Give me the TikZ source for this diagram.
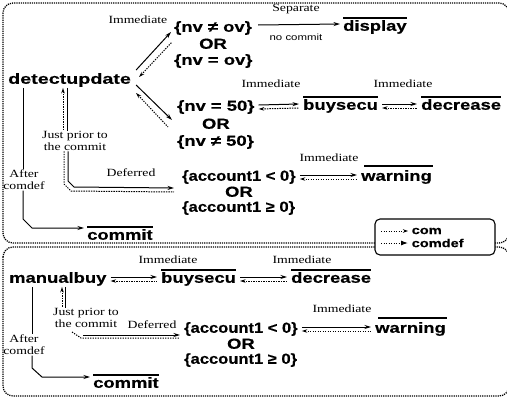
\documentclass[tikz,border=0pt]{standalone}
\usepackage{fontspec}
\usetikzlibrary{arrows.meta,calc}
\newfontfamily\bsf{Liberation Sans}[FakeStretch=1.27, BoldFeatures={FakeBold=0.5}]
\newfontfamily\bsfw{Liberation Sans}[FakeStretch=1.36, BoldFeatures={FakeBold=0.5}]
\newfontfamily\bsfn{Liberation Sans}[FakeStretch=1.14, BoldFeatures={FakeBold=0.5}]
\newfontfamily\srf{Liberation Serif}[FakeStretch=1.25]
\tikzset{
 big/.style={font=\bsf\bfseries\fontsize{14.5}{15}\selectfont, inner sep=1pt, text height=10.5pt, text depth=3pt},
 wide/.style={big, font=\bsfw\bfseries\fontsize{14.5}{15}\selectfont},
 acc/.style={big, font=\bsfn\bfseries\fontsize{14.5}{15}\selectfont},
 lbl/.style={font=\srf\fontsize{11}{12}\selectfont, inner sep=0.5pt, align=center},
 sml/.style={font=\bsf\fontsize{9}{10}\selectfont, inner sep=0.5pt},
 leg/.style={font=\bsf\bfseries\fontsize{11.5}{11}\selectfont, inner sep=0.5pt, anchor=west},
 fwd/.style={-{Stealth[length=6.5pt,width=4pt]}, line width=1pt},
 back/.style={{Stealth[length=5.5pt,width=3.5pt]}-, line width=1pt, dash pattern=on 1.3pt off 1.2pt},
 plain/.style={line width=1pt},
 dots/.style={line width=1pt, dash pattern=on 1.3pt off 1.2pt},
 ovl/.style={line width=1.2pt},
 frame/.style={line width=1.3pt, dash pattern=on 1.2pt off 1pt, rounded corners=10pt},
}
\begin{document}
\begin{tikzpicture}[x=1pt,y=-1pt]
\useasboundingbox (0,0) rectangle (507,399);
% frames
\draw[frame] (3,3) rectangle (509,243);
\draw[frame] (3,247) rectangle (509,396);

% ---------- upper part ----------
\node[wide, anchor=west] (du) at (7,80) {detectupdate};
\node[big, anchor=west] (ne) at (173,28) {\{nv ≠ ov\}};
\node[big] (or1) at (ne.center |- 0,45) {OR};
\node[big, anchor=west] (eq) at (173,61) {\{nv = ov\}};
\node[lbl, anchor=east] (im1) at (168,20) {Immediate};
\node[big, anchor=west] (disp) at (342,27) {display};
\node[lbl] (sep) at (296,9) {Separate};
\node[sml] (nc) at (296,37) {no commit};
\draw[fwd] (ne.east) ++(5,-3) -- ($(disp.west)+(-2,-3)$);

\draw[fwd] ($(du.east)+(4,-10)$) -- ($(ne.west)+(-2,4)$);
\draw[back] ($(du.east)+(7,-3)$) -- ($(ne.west)+(-1,14)$);

\node[big, anchor=west] (n50) at (176,107) {\{nv = 50\}};
\node[big] (or2) at (n50.center |- 0,125) {OR};
\node[big, anchor=west] (nn50) at (176,142) {\{nv ≠ 50\}};
\draw[fwd] ($(du.east)+(4,5)$) -- ($(n50.west)+(-4,13)$);
\draw[back] ($(du.east)+(4,13)$) -- ($(n50.west)+(-8,20)$);

\node[big, anchor=west] (bs1) at (302,106) {buysecu};
\node[big, anchor=west] (dec1) at (420,106) {decrease};
\node[lbl] (im2) at (271,84) {Immediate};
\node[lbl] (im3) at (403,84) {Immediate};

\node[acc, anchor=west] (acc1) at (181,177) {\{account1 < 0\}};
\node[big] (or3) at (acc1.center |- 0,193) {OR};
\node[acc, anchor=west] (acg1) at (181,208) {\{account1 ≥ 0\}};
\node[big, anchor=west] (warn1) at (360,177) {warning};
\node[lbl] (im4) at (329,158) {Immediate};

\node[lbl] (jp1) at (75,141) {Just prior to\\the commit};
\node[lbl] (def1) at (131,173) {Deferred};
\node[lbl] (af1) at (24,180) {After\\comdef};
\node[big, anchor=west] (cm1) at (86,236) {commit};

% deferred pair (upper)
\draw[back] (du.south -| 63,0) -- (jp1.north -| 63,0);
\draw[plain] (du.south -| 67,0) -- (jp1.north -| 67,0);
\draw[dots] (jp1.south -| 64,0) -- (64,184) -- (71,191) -- ($(acc1.west)+(-7,15)$);
\draw[fwd] (jp1.south -| 68,0) -- (68,181) -- (74,187) -- ($(acc1.west)+(-7,11)$);

% after comdef (upper)
\draw[plain] (du.south -| 23,0) -- (af1.north -| 23,0);
\draw[fwd] (af1.south -| 23,0) -- (23,219) -- (32,228) -- ($(cm1.west)+(-2,-8)$);

% ---------- legend ----------
\draw[line width=1.1pt, fill=white, rounded corners=5pt] (375,219) rectangle (495,255);
\coordinate (l1a) at (381,231);
\coordinate (l2a) at (381,243);
\node[leg] (lcom) at (411,231) {com};
\node[leg] (lcomdef) at (411,243) {comdef};
\draw[dots, -{Stealth[length=5pt,width=3.5pt]}] (l1a) -- ($(lcom.west)+(-3,0)$);
\draw[dots, -{Latex[length=7pt,width=5pt]}] (l2a) -- ($(lcomdef.west)+(-3,0)$);

% ---------- lower part ----------
\node[big, anchor=west] (mb) at (8,279) {manualbuy};
\node[big, anchor=west] (bs2) at (160,279) {buysecu};
\node[big, anchor=west] (dec2) at (290,279) {decrease};
\node[lbl] (im5) at (168,260) {Immediate};
\node[lbl] (im6) at (302,260) {Immediate};

\node[lbl] (jp2) at (86,318) {Just prior to\\the commit};
\node[lbl] (def2) at (152,325) {Deferred};
\node[acc, anchor=west] (acc2) at (183,329) {\{account1 < 0\}};
\node[big] (or4) at (acc2.center |- 0,345) {OR};
\node[acc, anchor=west] (acg2) at (183,360) {\{account1 ≥ 0\}};
\node[big, anchor=west] (warn2) at (374,329) {warning};
\node[lbl] (im7) at (342,309) {Immediate};
\node[lbl] (af2) at (24,345) {After\\comdef};
\node[big, anchor=west] (cm2) at (92,384) {commit};

\draw[back] (mb.south -| 62,0) -- (jp2.north -| 62,0);
\draw[plain] (mb.south -| 65,0) -- (jp2.north -| 65,0);
\draw[fwd] (83,335) -- ($(acc2.west)+(-3,6)$);
\draw[dots] (72,332) -- (81,338) -- ($(acc2.west)+(-3,9)$);

\draw[plain] (mb.south -| 32,0) -- (af2.north -| 32,0);
\draw[fwd] (af2.south -| 32,0) -- (32,368) -- (42,377) -- ($(cm2.west)+(-2,-7)$);

% double arrows
\foreach \a/\b in {n50/bs1, bs1/dec1, acc1/warn1, mb/bs2, bs2/dec2, acc2/warn2} {
  \draw[fwd] ($(\a.east)+(3,-2)$) -- ($(\b.west)+(-3,-2)$);
  \draw[back] ($(\a.east)+(3,2)$) -- ($(\b.west)+(-3,2)$);
}
% overlines
\foreach \n in {disp, bs1, dec1, cm1, bs2, dec2, cm2} {
  \draw[ovl] ($(\n.north west)+(1,-1)$) -- ($(\n.north east)+(-1,-1)$);
}
\foreach \n in {warn1, warn2} {
  \draw[ovl] ($(\n.north west)+(4,-3)$) -- ($(\n.north east)+(0,-3)$);
}
\end{tikzpicture}
\end{document}
